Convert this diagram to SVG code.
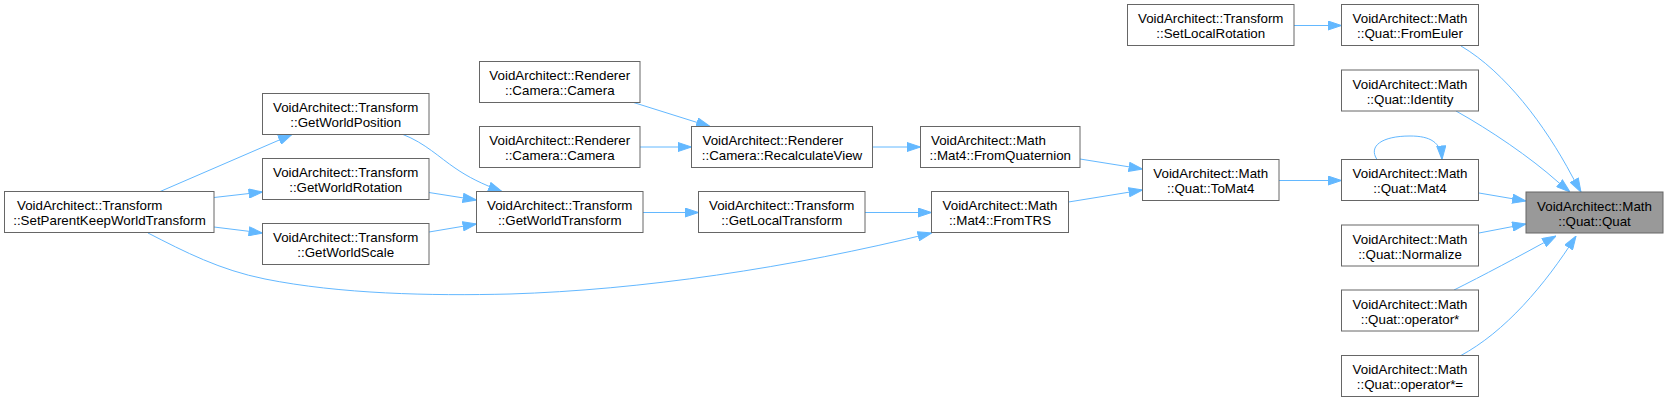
<svg xmlns="http://www.w3.org/2000/svg" width="1668" height="402" viewBox="0 0 1668 402">
<style>
.n rect{fill:#ffffff;stroke:#666666;stroke-width:1}
.n.hl rect{fill:#999999}
.n text{font-family:"Liberation Sans",Arial,Helvetica,sans-serif;font-size:13.33px;fill:#000000}
.m{text-anchor:middle}
.s{text-anchor:start}
.e path{fill:none;stroke:#63b8ff;stroke-width:1;marker-end:url(#ah)}
</style>
<defs>
<marker id="ah" viewBox="0 0 14 10" refX="14" refY="5" markerWidth="14" markerHeight="10" markerUnits="userSpaceOnUse" orient="auto">
<path d="M0.5,0.5 L14,5 L0.5,9.5 z" fill="#63b8ff" stroke="#63b8ff" stroke-width="1"/>
</marker>
</defs>
<rect x="0" y="0" width="1668" height="402" fill="#ffffff"/>
<g id="edges" class="e">
<path d="M1294,25.5 L1341.5,25.5"/>
<path d="M1461,46 C1505,72 1545,125 1572,176 L1581,192"/>
<path d="M1456,111 C1490,130 1530,157 1558,182 L1570,192"/>
<path d="M1479,193 L1526,201"/>
<path d="M1479,233 L1526,224"/>
<path d="M1454,290 C1482,276 1518,257 1556,236"/>
<path d="M1460,356 C1505,332 1545,285 1576,236"/>
<path d="M1377,159.5 C1368,146 1382,136 1410,136 C1430,136 1441,142 1442,159.5"/>
<path d="M1279,180.5 L1341.5,180.5"/>
<path d="M1080,159 L1142.5,169"/>
<path d="M1068.5,202 L1142.5,190"/>
<path d="M872.5,147 L920.5,147"/>
<path d="M865,212.5 L931.5,212.5"/>
<path d="M148,233 C185,252 220,270 265,279 C340,294 430,296 510,294 C640,290 790,268 931.5,233"/>
<path d="M632,102 L710,126.5"/>
<path d="M640,147 L691.5,147"/>
<path d="M643,212.5 L698.5,212.5"/>
<path d="M403,134.5 C425,143 440,158 455,168 C468,177 482,184 502,191.5"/>
<path d="M429,192.5 L476.5,200"/>
<path d="M429,232 L476.5,224"/>
<path d="M159,192 L292,134.5"/>
<path d="M214,197.5 L262.5,192"/>
<path d="M214,227 L262.5,233"/>
</g>
<g id="n_SetParentKeepWorldTransform" class="n"><rect x="4.5" y="191.5" width="209.5" height="41"/><text class="s" x="17" y="210">VoidArchitect::Transform</text><text class="m" x="109.5" y="225">::SetParentKeepWorldTransform</text></g>
<g id="n_GetWorldPosition" class="n"><rect x="262.5" y="93.5" width="166.5" height="41"/><text class="m" x="345.75" y="112">VoidArchitect::Transform</text><text class="m" x="345.75" y="127">::GetWorldPosition</text></g>
<g id="n_GetWorldRotation" class="n"><rect x="262.5" y="158.5" width="166.5" height="41"/><text class="m" x="345.75" y="177">VoidArchitect::Transform</text><text class="m" x="345.75" y="192">::GetWorldRotation</text></g>
<g id="n_GetWorldScale" class="n"><rect x="262.5" y="223.5" width="166.5" height="41"/><text class="m" x="345.75" y="242">VoidArchitect::Transform</text><text class="m" x="345.75" y="257">::GetWorldScale</text></g>
<g id="n_Camera1" class="n"><rect x="479.5" y="61.5" width="160.5" height="41"/><text class="m" x="559.75" y="80">VoidArchitect::Renderer</text><text class="m" x="559.75" y="95">::Camera::Camera</text></g>
<g id="n_Camera2" class="n"><rect x="479.5" y="126.5" width="160.5" height="41"/><text class="m" x="559.75" y="145">VoidArchitect::Renderer</text><text class="m" x="559.75" y="160">::Camera::Camera</text></g>
<g id="n_GetWorldTransform" class="n"><rect x="476.5" y="191.5" width="166.5" height="41"/><text class="m" x="559.75" y="210">VoidArchitect::Transform</text><text class="m" x="559.75" y="225">::GetWorldTransform</text></g>
<g id="n_RecalculateView" class="n"><rect x="691.5" y="126.5" width="181" height="41"/><text class="s" x="702.5" y="145">VoidArchitect::Renderer</text><text class="m" x="782" y="160">::Camera::RecalculateView</text></g>
<g id="n_GetLocalTransform" class="n"><rect x="698.5" y="191.5" width="166.5" height="41"/><text class="m" x="781.75" y="210">VoidArchitect::Transform</text><text class="m" x="781.75" y="225">::GetLocalTransform</text></g>
<g id="n_FromQuaternion" class="n"><rect x="920.5" y="126.5" width="159.5" height="41"/><text class="s" x="931" y="145">VoidArchitect::Math</text><text class="m" x="1000.25" y="160">::Mat4::FromQuaternion</text></g>
<g id="n_FromTRS" class="n"><rect x="931.5" y="191.5" width="137" height="41"/><text class="m" x="1000" y="210">VoidArchitect::Math</text><text class="m" x="1000" y="225">::Mat4::FromTRS</text></g>
<g id="n_ToMat4" class="n"><rect x="1142.5" y="159.5" width="136.5" height="41"/><text class="m" x="1210.75" y="178">VoidArchitect::Math</text><text class="m" x="1210.75" y="193">::Quat::ToMat4</text></g>
<g id="n_SetLocalRotation" class="n"><rect x="1127.5" y="4.5" width="166.5" height="41"/><text class="m" x="1210.75" y="23">VoidArchitect::Transform</text><text class="m" x="1210.75" y="38">::SetLocalRotation</text></g>
<g id="n_FromEuler" class="n"><rect x="1341.5" y="4.5" width="137" height="41"/><text class="m" x="1410" y="23">VoidArchitect::Math</text><text class="m" x="1410" y="38">::Quat::FromEuler</text></g>
<g id="n_Identity" class="n"><rect x="1341.5" y="70" width="137" height="41"/><text class="m" x="1410" y="88.5">VoidArchitect::Math</text><text class="m" x="1410" y="103.5">::Quat::Identity</text></g>
<g id="n_Mat4" class="n"><rect x="1341.5" y="159.5" width="137" height="41"/><text class="m" x="1410" y="178">VoidArchitect::Math</text><text class="m" x="1410" y="193">::Quat::Mat4</text></g>
<g id="n_Quat" class="n hl"><rect x="1526" y="192" width="137" height="41"/><text class="m" x="1594.5" y="210.5">VoidArchitect::Math</text><text class="m" x="1594.5" y="225.5">::Quat::Quat</text></g>
<g id="n_Normalize" class="n"><rect x="1341.5" y="225" width="137" height="41"/><text class="m" x="1410" y="243.5">VoidArchitect::Math</text><text class="m" x="1410" y="258.5">::Quat::Normalize</text></g>
<g id="n_OperatorMul" class="n"><rect x="1341.5" y="290" width="137" height="41"/><text class="m" x="1410" y="308.5">VoidArchitect::Math</text><text class="m" x="1410" y="323.5">::Quat::operator*</text></g>
<g id="n_OperatorMulAssign" class="n"><rect x="1341.5" y="355.5" width="137" height="41"/><text class="m" x="1410" y="374">VoidArchitect::Math</text><text class="m" x="1410" y="389">::Quat::operator*=</text></g>
</svg>
